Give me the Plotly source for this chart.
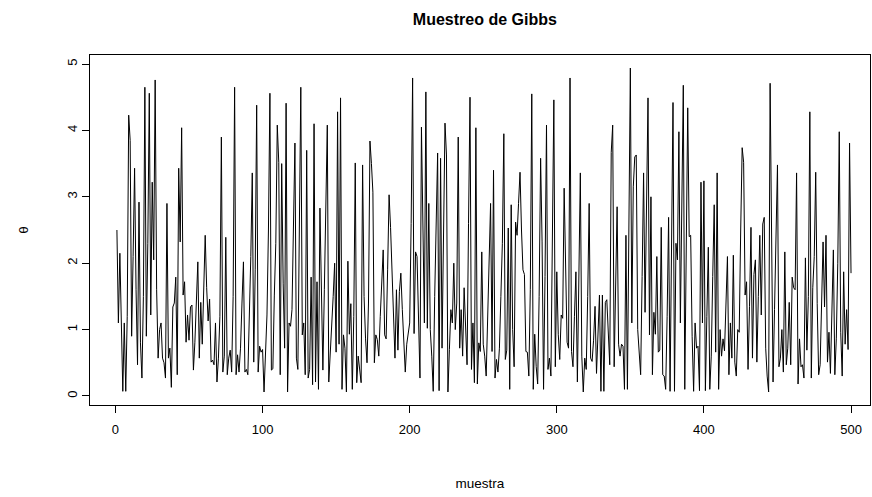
import plotly.graph_objects as go

# Trace values of theta, in blocks
theta_001_040 = [2.5, 1.1, 2.15, 0.9, 0.07, 1.1, 0.07, 1.2, 4.23, 3.85,
                 0.9, 2.1, 3.43, 1.6, 0.47, 2.92, 0.8, 0.27, 1.5, 4.65,
                 0.9, 2.3, 4.56, 1.22, 3.22, 2.05, 4.76, 1.6, 0.57, 1.0,
                 1.1, 0.57, 0.5, 0.27, 2.9, 0.57, 0.72, 0.13, 1.34, 1.4]
theta_041_082 = [1.79, 0.32, 3.43, 2.32, 4.04, 1.52, 1.72, 0.81, 1.22, 0.84,
                 1.34, 1.37, 0.39, 0.81, 1.3, 2.02, 0.57, 1.41, 0.78, 1.5,
                 2.42, 1.63, 1.13, 1.46, 0.51, 0.54, 0.47, 1.1, 0.21, 0.57,
                 1.2, 3.9, 0.36, 0.6, 2.39, 0.32, 0.57, 0.69, 0.36, 1.5,
                 4.65, 0.32]
theta_083_124 = [0.62, 0.36, 0.72, 1.4, 2.02, 0.36, 0.4, 0.32, 1.1, 2.1,
                 3.36, 0.51, 1.9, 4.38, 0.36, 0.75, 0.66, 0.7, 0.06, 0.72,
                 1.22, 2.5, 4.56, 0.39, 0.41, 1.52, 2.3, 4.08, 3.52, 0.32,
                 3.5, 1.7, 0.72, 4.41, 0.06, 1.1, 1.05, 1.3, 2.9, 3.81,
                 0.57, 0.4]
theta_125_166 = [2.5, 4.65, 0.92, 1.1, 0.32, 3.7, 0.27, 0.4, 1.79, 0.17,
                 4.1, 0.21, 1.72, 0.1, 2.83, 1.26, 0.39, 1.6, 2.8, 4.08,
                 0.21, 0.6, 1.1, 1.5, 2.0, 0.66, 4.28, 0.78, 4.49, 0.1,
                 0.92, 0.72, 0.06, 2.03, 0.93, 1.39, 0.1, 1.2, 3.51, 0.2,
                 0.6, 0.4]
theta_167_209 = [0.2, 3.48, 1.5, 0.86, 0.5, 1.4, 3.84, 3.5, 3.07, 0.5,
                 0.92, 0.85, 0.6, 1.2, 1.63, 2.2, 0.92, 0.86, 1.9, 3.03,
                 2.54, 1.8, 1.1, 0.57, 1.6, 0.69, 1.57, 1.85, 1.3, 0.86,
                 0.36, 0.78, 0.95, 1.1, 2.6, 4.79, 0.94, 2.17, 2.1, 1.2,
                 0.27, 4.05, 2.2]
theta_210_251 = [1.1, 4.58, 1.02, 2.9, 1.0, 0.6, 0.07, 1.5, 2.8, 3.66,
                 0.08, 3.58, 0.72, 2.4, 4.11, 3.63, 0.06, 0.7, 1.3, 1.1,
                 2.0, 1.0, 1.4, 3.9, 0.72, 1.3, 0.6, 1.63, 0.9, 0.47,
                 2.6, 4.5, 0.4, 1.1, 0.2, 4.04, 0.18, 0.8, 0.67, 2.17,
                 0.78, 0.6]
theta_252_293 = [0.3, 1.2, 2.03, 2.9, 0.67, 3.4, 0.27, 0.55, 0.36, 0.72,
                 1.5, 2.3, 3.95, 0.55, 0.69, 2.53, 0.1, 2.88, 1.0, 0.44,
                 2.62, 2.42, 2.9, 3.37, 2.5, 1.9, 1.83, 0.67, 0.66, 0.3,
                 1.6, 4.55, 0.1, 0.93, 0.44, 0.18, 1.5, 3.58, 2.32, 0.1,
                 1.8, 4.08]
theta_294_335 = [0.4, 0.57, 0.3, 2.2, 4.46, 0.44, 1.87, 0.93, 0.55, 1.22,
                 1.17, 3.13, 1.8, 0.81, 0.72, 4.79, 0.67, 0.44, 1.2, 1.87,
                 0.21, 1.8, 3.36, 0.6, 0.06, 0.57, 0.4, 1.5, 2.9, 0.57,
                 0.52, 0.84, 1.35, 0.34, 0.84, 1.52, 0.07, 1.52, 0.07, 1.41,
                 1.45, 0.9]
theta_336_377 = [0.47, 3.67, 4.08, 0.44, 1.6, 2.85, 0.78, 0.6, 0.78, 0.75,
                 0.1, 2.42, 0.1, 2.5, 4.94, 1.1, 3.15, 3.6, 3.63, 1.0,
                 0.6, 0.32, 1.8, 3.36, 1.26, 2.6, 4.49, 0.92, 3.0, 0.32,
                 1.26, 0.93, 2.1, 0.66, 0.69, 2.54, 0.32, 0.3, 0.1, 1.2,
                 2.69, 0.07]
theta_378_419 = [2.0, 4.42, 0.07, 2.3, 2.05, 3.98, 1.1, 2.6, 4.68, 0.1,
                 2.2, 4.34, 2.4, 2.42, 0.9, 0.07, 1.1, 0.72, 0.75, 0.08,
                 3.22, 1.1, 3.24, 0.08, 1.2, 2.24, 0.1, 0.6, 1.8, 2.88,
                 0.66, 3.36, 0.1, 1.0, 0.6, 0.86, 0.68, 1.3, 2.1, 0.32,
                 1.1, 0.57]
theta_420_461 = [2.12, 0.51, 0.3, 1.0, 0.96, 2.5, 3.74, 3.52, 1.52, 1.72,
                 0.4, 1.35, 2.54, 0.57, 1.83, 2.05, 0.51, 1.5, 2.42, 1.22,
                 2.59, 2.69, 0.72, 0.3, 0.06, 4.71, 2.52, 0.21, 1.3, 2.4,
                 3.48, 0.44, 0.57, 1.0, 0.36, 2.17, 0.47, 0.72, 1.41, 0.47,
                 1.79, 1.63]
theta_462_500 = [1.6, 3.36, 0.18, 0.86, 0.44, 0.47, 0.27, 2.08, 0.69, 1.5,
                 4.28, 0.27, 1.63, 2.1, 3.37, 1.39, 0.32, 0.47, 1.3, 2.32,
                 1.34, 2.42, 0.51, 0.96, 0.34, 1.4, 2.2, 0.32, 0.86, 2.0,
                 3.98, 0.96, 0.3, 1.87, 0.78, 1.3, 0.7, 3.81, 1.85]

theta = (theta_001_040 + theta_041_082 + theta_083_124 + theta_125_166 +
         theta_167_209 + theta_210_251 + theta_252_293 + theta_294_335 +
         theta_336_377 + theta_378_419 + theta_420_461 + theta_462_500)
muestra = list(range(1, len(theta) + 1))

x_ticks = [0, 100, 200, 300, 400, 500]
y_ticks = [0, 1, 2, 3, 4, 5]

FONT = "Liberation Sans, Arial, Helvetica, sans-serif"

fig = go.Figure()
fig.add_trace(go.Scatter(x=muestra, y=theta, mode="lines",
                         line=dict(color="black", width=1),
                         showlegend=False, hoverinfo="skip"))

fig.update_layout(
    width=872, height=497,
    margin=dict(l=90, r=2, t=55, b=92),
    paper_bgcolor="white", plot_bgcolor="white",
    font=dict(family=FONT, size=13, color="black"),
    title=dict(text="<b>Muestreo de Gibbs</b>", x=0.556, xanchor="center",
               y=1 - 19 / 497, yanchor="middle",
               font=dict(family=FONT, size=16, color="black")),
)
fig.update_xaxes(
    range=[-17.3, 512.9], tickvals=x_ticks,
    ticktext=[str(v) for v in x_ticks],
    showgrid=False, zeroline=False,
    showline=True, mirror=True, linecolor="black", linewidth=1,
    ticks="outside", ticklen=7, tickwidth=1, tickcolor="black",
    ticklabelstandoff=5,
    title=dict(text="muestra", standoff=42, font=dict(size=13.5)),
)
fig.update_yaxes(
    range=[-0.136, 5.136], tickvals=y_ticks,
    ticktext=[str(v) for v in y_ticks], tickangle=-90,
    showgrid=False, zeroline=False,
    showline=True, mirror=True, linecolor="black", linewidth=1,
    ticks="outside", ticklen=7, tickwidth=1, tickcolor="black",
    ticklabelstandoff=0,
    title=dict(text="θ", standoff=33, font=dict(size=13.5)),
)

fig.write_html("out.html")
